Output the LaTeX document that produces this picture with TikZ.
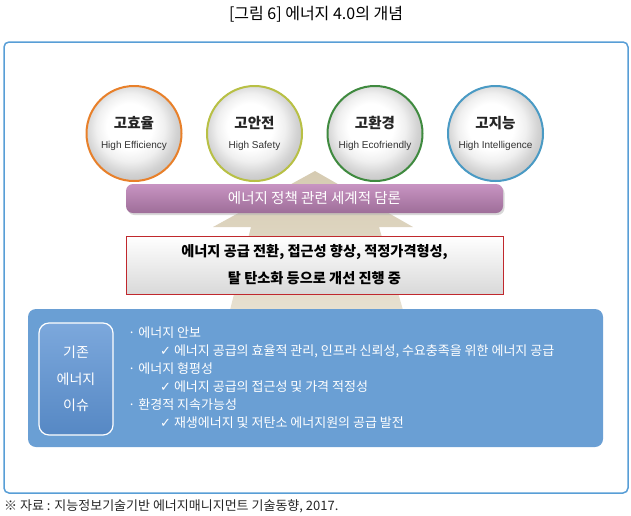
\documentclass[tikz,border=0pt]{standalone}
\usepackage{fontspec}
\setmainfont{Noto Sans CJK KR}
\newfontfamily\latinsans{Liberation Sans}
\newfontfamily\symfont{DejaVu Sans}
\usetikzlibrary{shadows,positioning}
\definecolor{ringorange}{RGB}{232,128,42}
\definecolor{ringolive}{RGB}{184,192,69}
\definecolor{ringgreen}{RGB}{63,138,63}
\definecolor{ringblue}{RGB}{74,154,196}
\definecolor{frameblue}{RGB}{88,158,214}
\definecolor{issueblue}{RGB}{106,159,212}
\definecolor{issuelight}{RGB}{124,168,220}
\definecolor{issuedark}{RGB}{86,136,196}
\definecolor{arrowtan}{RGB}{214,203,178}
\definecolor{arrowbeige}{RGB}{231,224,208}
\definecolor{barpurple}{RGB}{200,148,194}
\definecolor{barpurpledark}{RGB}{158,110,153}
\definecolor{boxred}{RGB}{192,40,45}
\pgfdeclareradialshading{pearl}{\pgfpoint{-3bp}{5bp}}{color(0bp)=(white);color(12bp)=(white);color(18bp)=(gray!12);color(24bp)=(gray!35);color(30bp)=(gray!50);color(50bp)=(gray!50)}
\tikzset{
 goal/.style={circle,minimum size=95pt,line width=2pt,shading=pearl,inner sep=0pt},
 goalko/.style={font=\bfseries\fontsize{14.5}{16}\selectfont,text=black!85,inner sep=0pt},
 goalen/.style={font=\latinsans\fontsize{10}{12}\selectfont,text=black!80,inner sep=0pt},
 talkbar/.style={minimum width=377pt,minimum height=29pt,rounded corners=7pt,top color=barpurple,bottom color=barpurpledark,
   drop shadow={fill=gray!60,opacity=.5,shadow xshift=1.5pt,shadow yshift=-2pt},text=white,font=\fontsize{14.5}{16}\selectfont},
 changebox/.style={minimum width=377pt,minimum height=58pt,draw=boxred,line width=.8pt,top color=white,middle color=white,bottom color=gray!30,
   align=center,font=\bfseries\fontsize{14.2}{27}\selectfont},
 issuetag/.style={minimum width=74pt,minimum height=112pt,rounded corners=10pt,draw=white,line width=1.2pt,top color=issuelight,bottom color=issuedark,
   align=center,text=white,font=\fontsize{14}{26.5}\selectfont},
 issueitem/.style={anchor=west,inner sep=0pt,text=white,font=\fontsize{13}{14}\selectfont},
}
\begin{document}
\begin{tikzpicture}[x=1pt,y=-1pt]
\useasboundingbox (0,0) rectangle (631,515);
%title
\node[font=\fontsize{16}{18}\selectfont] (title) at (316,14) {[그림 6] 에너지 4.0의 개념};
%frame
\node[draw=frameblue,line width=1.5pt,rounded corners=5pt,minimum width=624pt,minimum height=451pt] (frame) at (316,267.5) {};
%arrow
\shade[top color=arrowtan,bottom color=arrowbeige](315,171)--(413,227)--(379,227)--(403,310)--(230,310)--(251,227)--(213,227)--cycle;
%circles
\node[goal,draw=ringorange] (eff) at (134,133.5) {};
\node[goalko] (effko) at ([yshift=10.5pt]eff.center) {고효율};
\node[goalen] (effen) at ([yshift=-12.5pt]eff.center) {High Efficiency};
\node[goal,draw=ringolive] (safe) at (254.5,133.5) {};
\node[goalko] (safeko) at ([yshift=10.5pt]safe.center) {고안전};
\node[goalen] (safeen) at ([yshift=-12.5pt]safe.center) {High Safety};
\node[goal,draw=ringgreen] (eco) at (375,133.5) {};
\node[goalko] (ecoko) at ([yshift=10.5pt]eco.center) {고환경};
\node[goalen] (ecoen) at ([yshift=-12.5pt]eco.center) {High Ecofriendly};
\node[goal,draw=ringblue] (smart) at (495.5,133.5) {};
\node[goalko] (smartko) at ([yshift=10.5pt]smart.center) {고지능};
\node[goalen] (smarten) at ([yshift=-12.5pt]smart.center) {High Intelligence};
%policy bar
\node[talkbar] (talk) at (314.5,198.5) {에너지 정책 관련 세계적 담론};
%change box
\node[changebox] (change) at (314.5,265) {에너지 공급 전환, 접근성 향상, 적정가격형성,\\탈 탄소화 등으로 개선 진행 중};
%issue panel
\node[fill=issueblue,rounded corners=8pt,minimum width=575pt,minimum height=138pt] (panel) at (315.5,378) {};
\node[issuetag] (issue) at (76,379) {기존\\에너지\\이슈};
\node[issueitem] (sec) at (128,333) {· 에너지 안보};
\node[issueitem] (secnote) at (160,351.5) {{\symfont ✓} 에너지 공급의 효율적 관리, 인프라 신뢰성, 수요충족을 위한 에너지 공급};
\node[issueitem] (fair) at (128,369) {· 에너지 형평성};
\node[issueitem] (fairnote) at (160,387) {{\symfont ✓} 에너지 공급의 접근성 및 가격 적정성};
\node[issueitem] (sust) at (128,405) {· 환경적 지속가능성};
\node[issueitem] (sustnote) at (160,423) {{\symfont ✓} 재생에너지 및 저탄소 에너지원의 공급 발전};
%source
\node[anchor=west,inner sep=0pt,font=\fontsize{13}{15}\selectfont,text=black!85] (source) at (4,506) {※ 자료 : 지능정보기술기반 에너지매니지먼트 기술동향, 2017.};
\end{tikzpicture}
\end{document}
